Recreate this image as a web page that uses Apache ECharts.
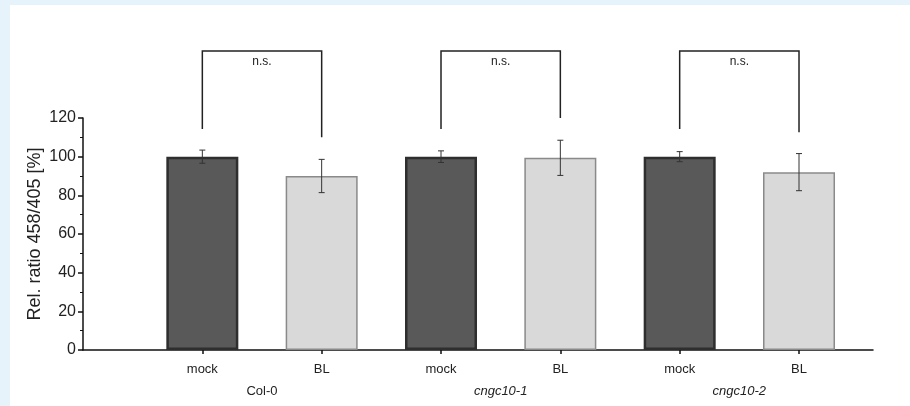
<!DOCTYPE html>
<html>
<head>
<meta charset="utf-8">
<script src="https://cdn.jsdelivr.net/npm/echarts@6/dist/echarts.min.js"></script>
<style>
  html, body { margin: 0; padding: 0; background: #e7f3fb; }
  #panel { position: absolute; left: 10px; top: 5px; width: 900px; height: 401px; background: #fff; }
  #chart { width: 900px; height: 401px; }
</style>
</head>
<body>
<div id="panel"><div id="chart"></div></div>
<script>
// data
const groups = ['Col-0', 'cngc10-1', 'cngc10-2'];
const treatments = ['mock', 'BL', 'mock', 'BL', 'mock', 'BL'];
const positions = [1, 2, 3, 4, 5, 6];
const means = [100, 90, 100, 99.4, 100, 92];
const errors = [3.4, 8.6, 3.0, 9.1, 2.6, 9.6];
const yTicks = [0, 20, 40, 60, 80, 100, 120];
// bracket: left x, right x, left leg end, right leg end
const brackets = [[1, 2, 114.3, 110], [3, 4, 114.3, 120], [5, 6, 114.3, 112.6]];
const bracketTop = 154.7;
const bracketLabel = 'n.s.';

const font = '"Liberation Sans", Arial, sans-serif';
const isMock = t => t === 'mock';

const chart = echarts.init(document.getElementById('chart'), null, { renderer: 'canvas' });

const barData = positions.map((x, i) => ({
  value: [x, means[i]],
  itemStyle: isMock(treatments[i])
    ? { color: '#595959', borderColor: '#2e2e2e', borderWidth: 2.5 }
    : { color: '#d9d9d9', borderColor: '#8a8a8a', borderWidth: 1.5 }
}));

chart.setOption({
  animation: false,
  textStyle: { fontFamily: font },
  grid: { left: 73, top: 113, right: 37, bottom: 56 },
  xAxis: {
    type: 'value', min: 0, max: 6.62,
    splitLine: { show: false },
    axisLine: { show: true, lineStyle: { color: '#111', width: 1.5 } },
    axisTick: { show: true, customValues: positions, length: 4, lineStyle: { color: '#111', width: 1.5 } },
    axisLabel: {
      customValues: positions, margin: 13, fontSize: 13, color: '#222',
      formatter: v => treatments[positions.indexOf(v)] || ''
    }
  },
  yAxis: {
    type: 'value', min: 0, max: 120, interval: 20,
    name: 'Rel. ratio 458/405 [%]', nameLocation: 'middle', nameGap: 39,
    nameMoveOverlap: false,
    nameTextStyle: { fontSize: 18, color: '#222' },
    splitLine: { show: false },
    axisLine: { show: true, lineStyle: { color: '#111', width: 1.5 } },
    axisTick: { show: true, length: 5, lineStyle: { color: '#111', width: 1.5 } },
    minorTick: { show: true, splitNumber: 2, length: 3, lineStyle: { color: '#111', width: 1 } },
    axisLabel: { fontSize: 16, color: '#222', margin: 7,
      formatter: v => yTicks.includes(v) ? String(v) : '' }
  },
  series: [
    {
      type: 'bar', barWidth: 72, data: barData, z: 2
    },
    {
      type: 'custom', clip: false, z: 3,
      data: positions.map((x, i) => [x, means[i], errors[i]]),
      renderItem: (params, api) => {
        const x = api.value(0), m = api.value(1), e = api.value(2);
        const hi = api.coord([x, m + e]), lo = api.coord([x, m - e]);
        const s = { stroke: '#333', lineWidth: 1 };
        return {
          type: 'group', children: [
            { type: 'line', shape: { x1: hi[0], y1: hi[1], x2: lo[0], y2: lo[1] }, style: s },
            { type: 'line', shape: { x1: hi[0] - 3, y1: hi[1], x2: hi[0] + 3, y2: hi[1] }, style: s },
            { type: 'line', shape: { x1: lo[0] - 3, y1: lo[1], x2: lo[0] + 3, y2: lo[1] }, style: s }
          ]
        };
      }
    },
    {
      type: 'custom', clip: false, z: 3,
      data: brackets,
      renderItem: (params, api) => {
        const l = api.value(0), r = api.value(1);
        const lb = api.coord([l, api.value(2)]), rb = api.coord([r, api.value(3)]);
        const lt = api.coord([l, bracketTop]), rt = api.coord([r, bracketTop]);
        return {
          type: 'group', children: [
            { type: 'polyline', shape: { points: [lb, lt, rt, rb] },
              style: { stroke: '#222', lineWidth: 1.5, fill: null } },
            { type: 'text', x: (lt[0] + rt[0]) / 2, y: lt[1] + 11,
              style: { text: bracketLabel, fontSize: 12, fontFamily: font, fill: '#222',
                align: 'center', verticalAlign: 'middle' } }
          ]
        };
      }
    },
    {
      type: 'custom', clip: false, z: 3,
      data: groups.map((g, i) => [positions[i * 2] + 0.5, 0]),
      renderItem: (params, api) => {
        const p = api.coord([api.value(0), 0]);
        const name = groups[params.dataIndex];
        return {
          type: 'text', x: p[0], y: p[1] + 41,
          style: { text: name, fontSize: 13, fontFamily: font, fill: '#222',
            fontStyle: name.startsWith('cngc') ? 'italic' : 'normal',
            align: 'center', verticalAlign: 'middle' }
        };
      }
    }
  ]
});
</script>
</body>
</html>
